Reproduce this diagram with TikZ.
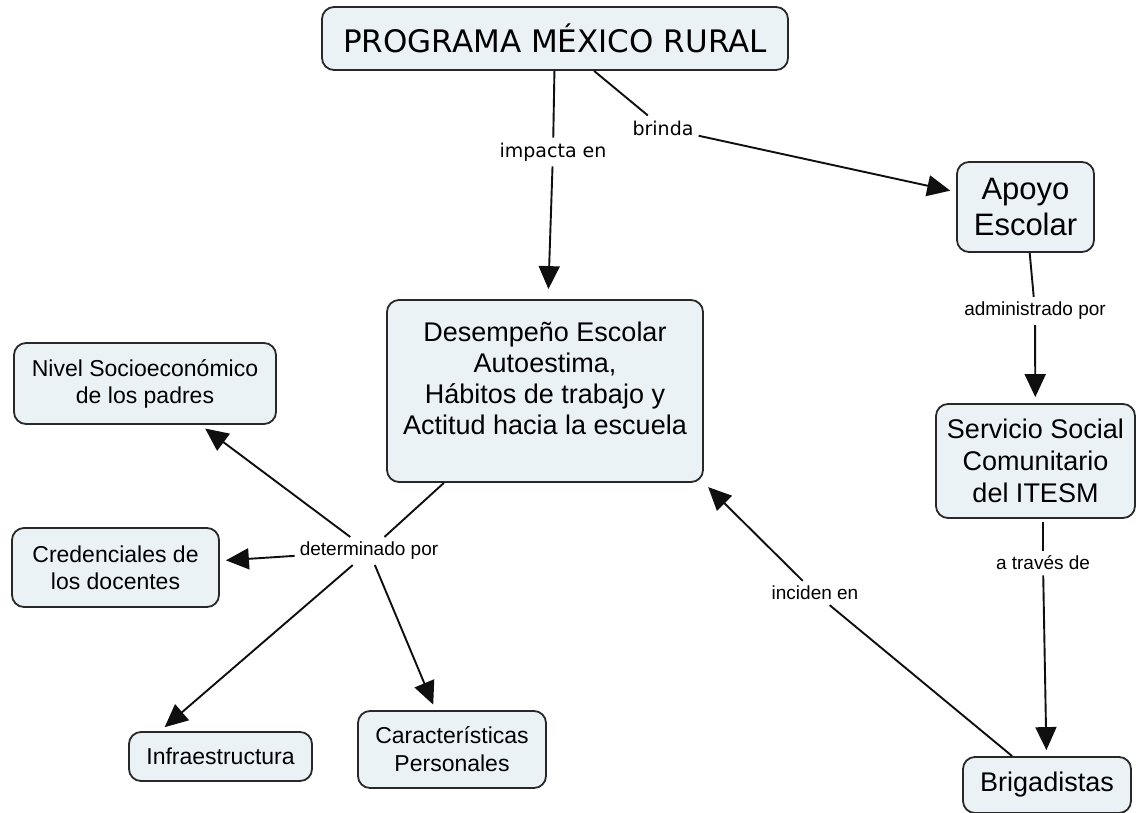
\documentclass[tikz,border=0pt]{standalone}
\usepackage{fontspec}
\setmainfont{Liberation Sans}
\newfontfamily\verd{DejaVu Sans}
\usetikzlibrary{arrows.meta,calc}
\definecolor{boxfill}{RGB}{234,242,246}
\definecolor{edgecol}{RGB}{40,40,40}
\definecolor{linecol}{RGB}{15,15,15}
\begin{document}
\begin{tikzpicture}[x=1pt,y=-1pt,
  cbox/.style={draw=edgecol,line width=1.8pt,fill=boxfill,rounded corners=12pt,align=center,inner sep=0pt},
  lbl/.style={inner sep=5pt,font=\fontsize{19}{22}\selectfont},
  vlbl/.style={inner sep=5pt,font=\verd\fontsize{19}{22}\selectfont},
  con/.style={line width=1.9pt,draw=linecol},
  arr/.style={con,-{Triangle[length=23pt,width=21pt]},shorten >=6pt}]
\useasboundingbox (0,0) rectangle (1137,813);

% concepts
\node[cbox,minimum width=466pt,minimum height=63pt,font=\verd\fontsize{31}{36}\selectfont] (title) at (555,38.5) {PROGRAMA MÉXICO RURAL};
\node[cbox,minimum width=316pt,minimum height=182pt,font=\fontsize{27}{31}\selectfont] (desemp) at (545,391) {Desempeño Escolar\\Autoestima,\\Hábitos de trabajo y\\Actitud hacia la escuela\\[-6pt]\mbox{}};
\node[cbox,minimum width=262pt,minimum height=81pt,font=\fontsize{23}{27}\selectfont] (nivel) at (145,383.5) {Nivel Socioeconómico\\de los padres};
\node[cbox,minimum width=207pt,minimum height=79pt,font=\fontsize{23}{27}\selectfont] (cred) at (115.5,567.5) {Credenciales de\\los docentes};
\node[cbox,minimum width=183pt,minimum height=49pt,font=\fontsize{23}{27}\selectfont] (infra) at (220.5,756.5) {Infraestructura};
\node[cbox,minimum width=188pt,minimum height=77pt,font=\fontsize{23}{28}\selectfont] (caract) at (452,749.5) {Características\\Personales};
\node[cbox,minimum width=137pt,minimum height=90pt,font=\fontsize{31}{36}\selectfont] (apoyo) at (1025.5,207) {Apoyo\\Escolar};
\node[cbox,minimum width=199pt,minimum height=114pt,font=\fontsize{27}{32}\selectfont] (serv) at (1035.5,461) {Servicio Social\\Comunitario\\del ITESM};
\node[cbox,minimum width=168pt,minimum height=56pt,font=\fontsize{27}{32}\selectfont] (brig) at (1047,785) {Brigadistas};

% linking phrases
\node[vlbl] (imp) at (553,152) {impacta en};
\node[vlbl] (brinda) at (663,128) {brinda};
\node[lbl] (adm) at (1035,311) {administrado por};
\node[lbl] (det) at (369,551) {determinado por};
\node[lbl] (atr) at (1043,563) {a través de};
\node[lbl] (inc) at (815,593) {inciden en};

% connectors
\draw[con] (title) -- (imp);
\draw[arr,shorten >=10pt] (imp) -- (desemp);
\draw[con] (title) -- (brinda);
\draw[arr] (brinda) -- (apoyo);
\draw[con] (apoyo) -- (adm);
\draw[arr] (adm) -- (serv);
\draw[con,shorten <=3pt] (serv.south -| atr) -- (atr);
\draw[arr] (atr) -- (brig);
\draw[con] (brig) -- (inc);
\draw[arr] (inc) -- (desemp.south east);
\draw[con] (desemp) -- (det);
\draw[arr] (det) -- (nivel);
\draw[arr] (det) -- (cred);
\draw[arr] (det) -- ($(infra.north west)+(32,0)$);
\draw[arr] (det) -- (caract);
\end{tikzpicture}
\end{document}
